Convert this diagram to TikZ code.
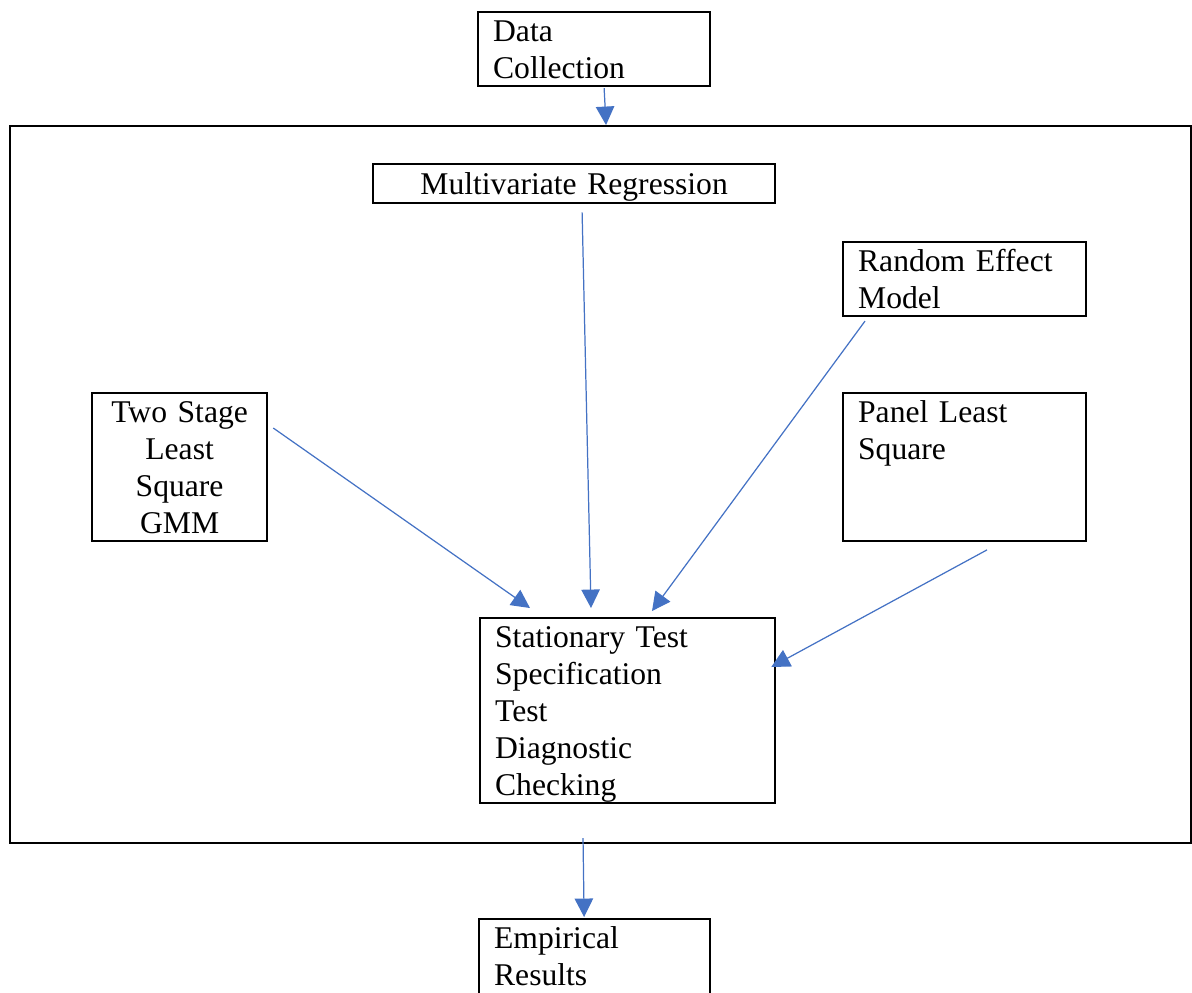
\documentclass[tikz,border=0pt]{standalone}
\usepackage{fontspec}
\setmainfont{Liberation Serif}
\usetikzlibrary{arrows.meta, calc}

\definecolor{wordblue}{RGB}{68,114,196}
\newcommand{\wfont}{\fontsize{18}{21}\selectfont}
\newcommand{\wstrut}{\rule[-4.3pt]{0pt}{21pt}}

\begin{document}
\begin{tikzpicture}[x=0.02cm, y=-0.02cm,
  wbox/.style={draw, line width=1.3pt, anchor=north west, inner xsep=0.3cm, inner ysep=0pt,
    align=left, font=\wfont, execute at begin node=\wstrut, execute at end node=\wstrut},
  flow/.style={draw=wordblue, line width=0.7pt, -{Triangle[length=10.5pt, width=10.5pt]}, color=wordblue}]
\useasboundingbox (0, 0) rectangle (1192, 992);

% Outer frame
\node [draw, line width=1.3pt, anchor=north west, inner sep=0pt,
  minimum width=23.62cm, minimum height=14.34cm] (outer) at (9, 125) {};

% Boxes
\node [wbox, text width=4.04cm] (data) at (477, 11) {Data\\Collection};
\node [wbox, text width=7.44cm, align=center, minimum height=0.78cm] (multi) at (372, 163) {Multivariate Regression};
\node [wbox, text width=4.26cm] (random) at (842, 241) {Random Effect\\Model};
\node [wbox, text width=2.9cm, align=center] (twostage) at (91, 392) {Two Stage\\Least\\Square\\GMM};
\node [wbox, text width=4.26cm] (panel) at (842, 392) {Panel Least\\Square\\\mbox{}\\\mbox{}};
\node [wbox, text width=5.3cm] (stat) at (479, 617) {Stationary Test\\Specification\\Test\\Diagnostic\\Checking};
\node [wbox, text width=4.02cm] (emp) at (478, 918) {Empirical\\Results\\\mbox{}};

% Arrows
\draw [flow] ($(data.south)+(10, 1)$) -- ($(outer.north)+(5.5, 0)$);
\draw [flow] ($(twostage.north east)+(5, 36)$) -- ($(stat.north west)+(51, -9)$);
\draw [flow] ($(multi.south)+(8, 8)$) -- ($(stat.north west)+(112, -9)$);
\draw [flow] ($(random.south west)+(23, 4)$) -- ($(stat.north west)+(173, -6)$);
\draw [flow] ($(panel.south west)+(145, 8)$) -- ($(stat.north east)+(-5, 50)$);
\draw [flow] ($(outer.south)+(-17.5, -6)$) -- ($(emp.north)+(-10.5, -1)$);
\end{tikzpicture}
\end{document}
